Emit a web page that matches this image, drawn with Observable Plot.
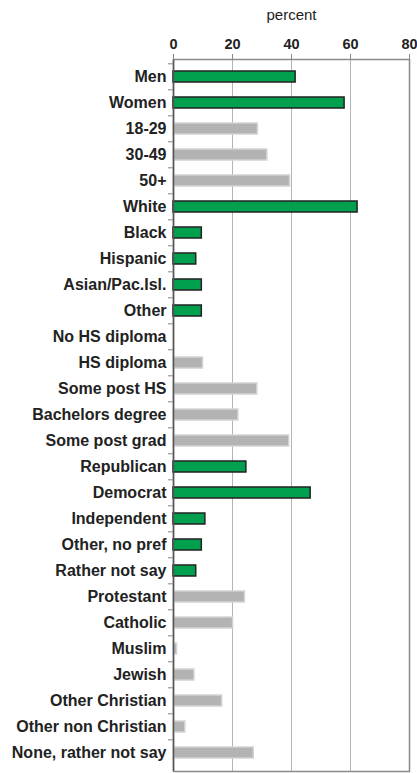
<!DOCTYPE html>
<html><head><meta charset="utf-8">
<script src="https://cdn.jsdelivr.net/npm/d3@7"></script>
<script src="https://cdn.jsdelivr.net/npm/@observablehq/plot@0.6"></script>
<style>
html,body{margin:0;padding:0;background:#fff}
svg{display:block}
</style>
</head><body><div id="chart"></div>
<script>
const categories = ["Men","Women","18-29","30-49","50+","White","Black","Hispanic","Asian/Pac.Isl.","Other","No HS diploma","HS diploma","Some post HS","Bachelors degree","Some post grad","Republican","Democrat","Independent","Other, no pref","Rather not say","Protestant","Catholic","Muslim","Jewish","Other Christian","Other non Christian","None, rather not say"];
const values = [41.4,58,28.6,31.8,39.5,62.4,9.6,7.7,9.6,9.6,0,10,28.4,22,39.2,24.7,46.5,10.8,9.6,7.7,24.2,20.2,1.2,7.1,16.5,4,27.2];
const highlighted = [true,true,false,false,false,true,true,true,true,true,false,false,false,false,false,true,true,true,true,true,false,false,false,false,false,false,false];
const xTicks = [0,20,40,60,80];
const gridTicks = [20,40,60];
const xLabel = "percent";

const data = categories.map((c,i)=>({category:c, value:values[i], hi:highlighted[i]}));

const W = 417, H = 773, mT = 59, mB = 2;
const step = (H - mT - mB) / categories.length;

const chart = Plot.plot({
  width: W, height: H,
  marginLeft: 173, marginRight: 8, marginTop: mT, marginBottom: mB,
  style: {fontFamily: "'Liberation Sans', Arial, sans-serif", color: "#222", background: "#fff"},
  x: {domain: [0,80]},
  y: {domain: categories, paddingInner: 0.56, paddingOuter: 0.28},
  marks: [
    Plot.gridX(gridTicks, {stroke: "#b5b5b5", strokeOpacity: 1}),
    Plot.frame({stroke: "#8a8a8a", strokeWidth: 1.5}),
    Plot.barX(data.filter(d=>!d.hi), {x: "value", y: "category", fill: "#b3b3b3", stroke: "#d3d3d3", strokeWidth: 1.5}),
    Plot.barX(data.filter(d=>d.hi), {x: "value", y: "category", fill: "#00a04f", stroke: "#222", strokeWidth: 1.5}),
    Plot.ruleX([0], {stroke: "#555", strokeWidth: 1.5}),
    Plot.axisX({anchor: "top", ticks: xTicks, tickSize: 6, tickPadding: 5, stroke: "#888", fontSize: 14.5, fontWeight: "bold", label: null}),
    Plot.axisX({anchor: "top", ticks: xTicks, tickSize: 0, tickFormat: () => "", fontSize: 15, fontWeight: "normal", label: xLabel, labelAnchor: "center", labelArrow: "none", labelOffset: 50}),
    Plot.axisY({anchor: "left", tickSize: 0, tickPadding: 7, fontSize: 16, fontWeight: "bold", label: null}),
    Plot.axisY({anchor: "left", tickSize: 5, tickFormat: () => "", stroke: "#888", dy: -step/2, label: null})
  ]
});
document.getElementById("chart").appendChild(chart);
</script>
</body></html>
